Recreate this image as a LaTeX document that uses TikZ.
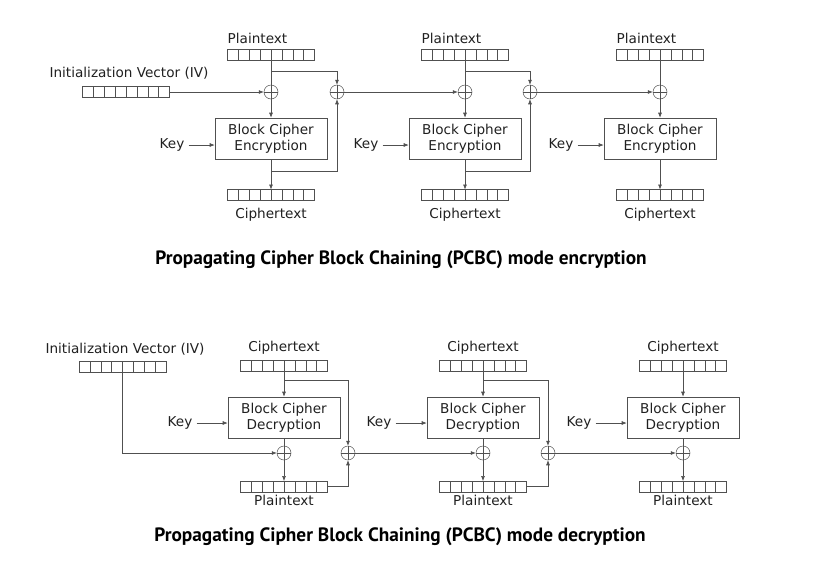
\documentclass[tikz,border=0pt]{standalone}
\usepackage{fontspec}
\setmainfont{DejaVu Sans}
\newfontfamily\titlefont{PT Sans}
\usepackage{tikz}
\usetikzlibrary{calc,positioning,arrows.meta}
\definecolor{ln}{HTML}{505050}
\definecolor{tx}{HTML}{202020}

\begin{document}
\begin{tikzpicture}
    [x=1pt, y=-1pt,
     Line/.style={draw=ln, line width=0.6pt},
     Arrow/.style={Line, -{Latex[length=5pt,width=4pt]}},
     Register/.style={draw=ln, line width=0.5pt, minimum width=87pt, minimum height=11pt, inner sep=0pt, outer sep=0pt},
     Cipher/.style={draw=ln, line width=0.6pt, minimum width=112pt, minimum height=41pt, inner sep=0pt, align=center, text=tx, font=\fontsize{13.6}{15.5}\selectfont},
     Xor/.style={circle, draw=ln, line width=0.5pt, minimum size=14pt, inner sep=0pt,
        path picture={\draw[ln, line width=0.5pt] (path picture bounding box.north) -- (path picture bounding box.south)
                                                   (path picture bounding box.west) -- (path picture bounding box.east);}},
     Label/.style={text=tx, inner sep=0pt, font=\fontsize{13.6}{15}\selectfont},
     Title/.style={text=black, inner sep=0pt, font=\titlefont\bfseries\fontsize{19.3}{22}\selectfont}
    ]
\useasboundingbox (0,0) rectangle (822,574);

%encryption chain
\node[Label] (livE) at (129,73) {Initialization Vector (IV)};
\node[Register] (ivE) at (126,92) {};
\foreach \i/\x in {1/271,2/465,3/660}{
  \node[Register] (pe\i) at (\x,54.5) {};
  \node[Label, anchor=west] (lpe\i) at (\x-43.5,38) {Plaintext};
  \node[Xor] (xe\i) at (\x,92) {};
  \node[Cipher] (be\i) at (\x,138.5) {Block Cipher\\Encryption};
  \node[Label] (ke\i) at (\x-99,145) {Key};
  \node[Register] (ce\i) at (\x,195) {};
  \node[Label] (lce\i) at (\x,215) {Ciphertext};
  \draw[Line]  (pe\i) -- (xe\i);
  \draw[Arrow] (xe\i) -- (be\i);
  \draw[Arrow] (be\i) -- (ce\i);
  \draw[Arrow, shorten <=4pt] (ke\i) -- (ke\i -| be\i.west);
}
\foreach \i/\x in {1/271,2/465}{
  \coordinate (te\i) at (\x,71);
  \coordinate (de\i) at (\x,171);
}
\node[Xor] (ye1) at (337,92) {};
\node[Xor] (ye2) at (530,92) {};
\draw[Arrow] (ivE) -- (xe1);
\draw[Arrow] (te1) -| (ye1);
\draw[Arrow] (de1) -| (ye1);
\draw[Arrow] (te2) -| (ye2);
\draw[Arrow] (de2) -| (ye2);
\draw[Arrow] (ye1) -- (xe2);
\draw[Arrow] (ye2) -- (xe3);
\node[Title] (encTitle) at (401,260) {Propagating Cipher Block Chaining (PCBC) mode encryption};

%decryption chain
\node[Label] (livD) at (125,349) {Initialization Vector (IV)};
\node[Register] (ivD) at (122.5,367) {};
\foreach \i/\x in {1/284,2/483,3/683}{
  \node[Register] (cd\i) at (\x,365.5) {};
  \node[Label] (lcd\i) at (\x,348) {Ciphertext};
  \node[Cipher] (bd\i) at (\x,417.5) {Block Cipher\\Decryption};
  \node[Label] (kd\i) at (\x-104,423) {Key};
  \node[Xor] (xd\i) at (\x,453) {};
  \node[Register] (pd\i) at (\x,486.5) {};
  \node[Label] (lpd\i) at (\x,500) {Plaintext};
  \draw[Arrow] (cd\i) -- (bd\i);
  \draw[Line]  (bd\i) -- (xd\i);
  \draw[Arrow] (xd\i) -- (pd\i);
  \draw[Arrow, shorten <=4pt] (kd\i) -- (kd\i -| bd\i.west);
}
\coordinate (td1) at (284,380);
\coordinate (td2) at (483,380);
\node[Xor] (yd1) at (348,453) {};
\node[Xor] (yd2) at (548,453) {};
\draw[Arrow] (ivD) |- (xd1);
\draw[Arrow] (td1) -| (yd1);
\draw[Arrow] (pd1.east) -| (yd1);
\draw[Arrow] (td2) -| (yd2);
\draw[Arrow] (pd2.east) -| (yd2);
\draw[Arrow] (yd1) -- (xd2);
\draw[Arrow] (yd2) -- (xd3);
\node[Title] (decTitle) at (400,537) {Propagating Cipher Block Chaining (PCBC) mode decryption};

%register cells
\foreach \r in {ivE,ivD,pe1,pe2,pe3,ce1,ce2,ce3,cd1,cd2,cd3,pd1,pd2,pd3}
  \foreach \k in {1,...,7}
    \draw[ln, line width=0.5pt] ($(\r.north west)!\k/8!(\r.north east)$) -- ($(\r.south west)!\k/8!(\r.south east)$);

\end{tikzpicture}
\end{document}
